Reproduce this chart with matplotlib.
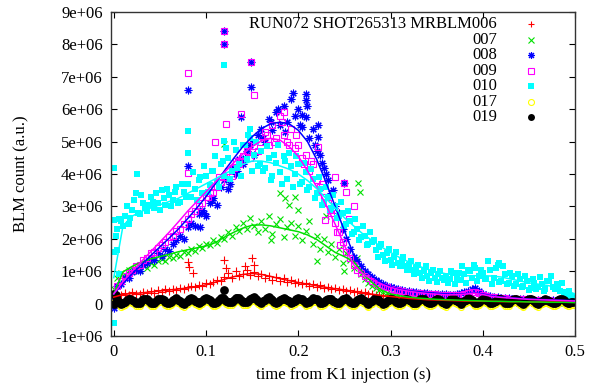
import numpy as np
from matplotlib import pyplot as plt

plt.rcParams['font.family'] = ['Liberation Serif', 'DejaVu Serif']

# sample times of the BLM data (s)
t = np.arange(125) * 0.004
t_half = t + 0.002
# times of the smoothed curves (s)
t_fit = np.arange(51) * 0.01

# ---- BLM counts, in units of 1e6 ----
blm006 = [0.22, 0.30, 0.26, 0.33, 0.28, 0.35, 0.31, 0.29, 0.36, 0.33,
          0.38, 0.34, 0.41, 0.37, 0.44, 0.40, 0.46, 0.43, 0.49, 0.45,
          0.50, 0.54, 0.52, 0.58, 0.55, 0.63, 0.60, 0.68, 0.72, 0.70,
          0.82, 0.95, 0.78, 1.02, 0.86, 0.92, 1.05, 0.88, 0.97, 0.84,
          0.90, 0.80, 0.86, 0.74, 0.82, 0.70, 0.78, 0.66, 0.73, 0.64,
          0.68, 0.60, 0.64, 0.55, 0.59, 0.52, 0.56, 0.49, 0.52, 0.46,
          0.48, 0.42, 0.45, 0.39, 0.42, 0.36, 0.38, 0.33, 0.35, 0.30,
          0.31, 0.26, 0.28, 0.23, 0.24, 0.20, 0.21, 0.18, 0.19, 0.16,
          0.16, 0.13, 0.14, 0.11, 0.13, 0.10, 0.12, 0.09, 0.11, 0.09,
          0.10, 0.08, 0.09, 0.07, 0.09, 0.07, 0.08, 0.06, 0.08, 0.07,
          0.08, 0.06, 0.07, 0.05, 0.07, 0.06, 0.07, 0.05, 0.06, 0.05,
          0.06, 0.05, 0.06, 0.04, 0.05, 0.04, 0.06, 0.04, 0.05, 0.04,
          0.05, 0.04, 0.05, 0.03, 0.04]
blm006_xt = [0.08, 0.082, 0.12, 0.122, 0.15, 0.152, 0.142, 0.002, 0.086]
blm006_xv = [1.28, 1.13, 1.35, 1.10, 1.40, 1.19, 1.15, 0.12, 0.95]

blm007 = [0.45, 0.80, 0.95, 0.88, 1.05, 1.00, 1.12, 1.05, 1.18, 1.10,
          1.25, 1.20, 1.32, 1.38, 1.30, 1.45, 1.40, 1.50, 1.46, 1.58,
          1.55, 1.70, 1.62, 1.78, 1.72, 1.85, 1.80, 1.95, 1.88, 2.05,
          2.00, 2.20, 2.10, 2.35, 2.25, 2.50, 2.30, 2.65, 2.40, 2.20,
          2.55, 2.30, 2.70, 2.15, 2.45, 2.60, 2.05, 2.35, 2.50, 2.10,
          2.40, 1.95, 2.25, 2.55, 1.85, 2.10, 1.70, 2.00, 1.60, 1.85,
          1.45, 1.70, 1.25, 1.55, 1.35, 1.10, 1.40, 0.90, 0.75, 0.65,
          0.55, 0.48, 0.42, 0.36, 0.33, 0.30, 0.28, 0.25, 0.24, 0.22,
          0.21, 0.20, 0.18, 0.17, 0.16, 0.15, 0.15, 0.14, 0.13, 0.13,
          0.12, 0.12, 0.11, 0.11, 0.10, 0.10, 0.09, 0.09, 0.09, 0.08,
          0.08, 0.08, 0.07, 0.07, 0.07, 0.06, 0.06, 0.06, 0.06, 0.05,
          0.05, 0.05, 0.05, 0.05, 0.04, 0.04, 0.04, 0.04, 0.04, 0.03,
          0.03, 0.03, 0.03, 0.03, 0.03]
blm007_xt = [0.12, 0.265, 0.267, 0.20, 0.23, 0.25, 0.17, 0.22, 0.18, 0.186, 0.19, 0.196]
blm007_xv = [4.93, 3.72, 3.44, 2.90, 2.70, 1.00, 1.95, 1.30, 3.40, 3.25, 3.05, 3.30]

blm008 = [0.30, 0.55, 0.62, 0.80, 0.78, 0.98, 1.05, 1.02, 1.20, 1.25,
          1.40, 1.35, 1.55, 1.48, 1.70, 1.62, 1.85, 1.95, 2.10, 2.00,
          2.35, 2.50, 2.40, 2.75, 2.90, 2.70, 3.10, 3.25, 3.05, 3.60,
          3.80, 3.55, 4.20, 4.00, 4.45, 4.30, 4.70, 4.90, 4.60, 5.20,
          5.40, 5.00, 5.70, 5.35, 5.90, 5.50, 6.10, 5.60, 6.30, 5.80,
          6.00, 5.45, 5.75, 5.10, 5.40, 4.70, 4.60, 4.20, 3.80, 3.40,
          3.00, 2.80, 2.30, 2.00, 1.70, 1.45, 1.30, 1.15, 1.00, 0.90,
          0.82, 0.72, 0.66, 0.60, 0.55, 0.50, 0.47, 0.44, 0.42, 0.40,
          0.38, 0.37, 0.35, 0.34, 0.33, 0.32, 0.31, 0.31, 0.30, 0.29,
          0.29, 0.28, 0.28, 0.30, 0.32, 0.35, 0.40, 0.45, 0.48, 0.40,
          0.30, 0.25, 0.22, 0.20, 0.19, 0.18, 0.17, 0.16, 0.15, 0.15,
          0.14, 0.14, 0.13, 0.13, 0.12, 0.12, 0.11, 0.11, 0.10, 0.10,
          0.10, 0.09, 0.09, 0.09, 0.08]
blm008_xt = [0.12, 0.12, 0.149, 0.149, 0.08, 0.08, 0.138, 0.208, 0.208,
             0.204, 0.221, 0.221, 0.226, 0.25, 0.0, 0.0, 0.094,
             0.162, 0.17, 0.178, 0.186, 0.194, 0.202, 0.21, 0.218, 0.23, 0.238,
             0.142, 0.15, 0.134, 0.126, 0.106, 0.098]
blm008_xv = [8.41, 8.00, 7.46, 6.69, 6.60, 4.25, 5.76, 6.47, 6.28,
             5.82, 5.50, 5.14, 4.34, 3.72, 0.20, -0.15, 2.36,
             5.10, 5.60, 6.00, 5.30, 6.50, 5.50, 6.10, 4.90, 4.00, 3.50,
             4.50, 5.00, 4.10, 3.70, 3.20, 2.80]

blm009 = [0.30, 0.55, 0.70, 0.85, 0.95, 1.05, 1.15, 1.20, 1.35, 1.40,
          1.55, 1.60, 1.72, 1.80, 1.90, 2.05, 2.10, 2.25, 2.30, 2.45,
          2.60, 2.75, 2.85, 3.00, 3.10, 3.30, 3.40, 3.45, 3.60, 3.75,
          3.90, 4.10, 3.95, 4.40, 4.30, 4.55, 4.70, 4.50, 4.85, 4.70,
          5.00, 5.30, 4.90, 5.50, 5.10, 5.80, 5.20, 5.00, 5.40, 4.80,
          4.90, 4.50, 4.60, 4.10, 4.30, 3.80, 3.60, 3.30, 3.10, 2.80,
          2.50, 2.20, 1.90, 1.60, 1.40, 1.20, 1.05, 0.95, 0.85, 0.78,
          0.70, 0.64, 0.58, 0.54, 0.50, 0.46, 0.43, 0.41, 0.39, 0.37,
          0.35, 0.34, 0.33, 0.32, 0.31, 0.30, 0.29, 0.29, 0.28, 0.27,
          0.27, 0.26, 0.26, 0.27, 0.28, 0.30, 0.33, 0.35, 0.36, 0.33,
          0.28, 0.24, 0.21, 0.19, 0.18, 0.17, 0.16, 0.15, 0.14, 0.14,
          0.13, 0.13, 0.12, 0.12, 0.11, 0.11, 0.10, 0.10, 0.10, 0.09,
          0.09, 0.09, 0.08, 0.08, 0.08]
blm009_xt = [0.12, 0.12, 0.149, 0.152, 0.0805, 0.08, 0.138, 0.122, 0.221, 0.226,
             0.25, 0.252, 0.26, 0.255, 0.24, 0.11, 0.185, 0.229, 0.245,
             0.166, 0.174, 0.182, 0.19, 0.198, 0.206, 0.214, 0.146, 0.138,
             0.13, 0.114, 0.102, 0.234, 0.242]
blm009_xv = [8.41, 8.00, 7.46, 6.44, 7.12, 4.03, 5.85, 5.55, 4.83, 3.70,
             3.72, 3.44, 3.00, 2.60, 3.90, 5.00, 5.90, 2.58, 1.80,
             5.20, 5.00, 5.60, 4.90, 5.20, 4.30, 4.40, 4.90, 4.40,
             4.20, 3.90, 3.30, 2.90, 2.20]

blm010 = [1.60, 2.30, 2.55, 2.70, 2.45, 2.90, 3.40, 2.75, 3.10, 2.85,
          3.30, 2.95, 3.10, 3.50, 3.05, 3.35, 3.20, 3.60, 3.15, 3.45,
          3.70, 3.30, 3.55, 3.80, 3.40, 3.95, 3.65, 4.10, 3.75, 4.30,
          3.95, 4.50, 4.10, 4.75, 4.30, 4.90, 4.45, 5.10, 4.60, 4.25,
          4.70, 4.20, 4.50, 3.95, 4.35, 4.05, 4.55, 3.85, 4.25, 4.00,
          4.30, 3.75, 4.05, 3.60, 3.85, 3.40, 3.55, 3.15, 3.30, 2.95,
          3.00, 2.70, 2.80, 2.45, 2.55, 2.20, 2.30, 2.05, 2.10, 1.85,
          1.90, 1.65, 1.75, 1.50, 1.55, 1.35, 1.45, 1.25, 1.30, 1.15,
          1.20, 1.05, 1.10, 0.95, 1.00, 0.85, 0.95, 0.80, 0.90, 0.78,
          0.85, 0.75, 0.95, 0.80, 0.72, 0.90, 1.05, 0.78, 1.10, 0.85,
          0.95, 0.75, 1.05, 0.80, 1.20, 0.70, 0.90, 0.65, 0.85, 0.60,
          0.75, 0.55, 0.70, 0.48, 0.65, 0.52, 0.60, 0.45, 0.70, 0.50,
          0.62, 0.40, 0.35, 0.30, 0.22]
# 010 samples taken between the main ones
blm010_half = [2.10, 2.60, 2.40, 3.00, 2.65, 3.20, 2.80, 3.35, 2.95, 3.05,
               3.15, 3.40, 2.90, 3.25, 3.55, 3.00, 3.45, 3.10, 3.70, 3.30,
               3.30, 4.05, 3.20, 3.90, 4.25, 3.45, 4.10, 4.55, 3.60, 4.40,
               4.80, 3.85, 5.00, 4.20, 3.95, 4.90, 5.20, 4.10, 5.00, 4.30,
               4.10, 4.85, 3.80, 4.60, 4.90, 3.70, 4.40, 4.65, 3.60, 4.55,
               3.70, 4.35, 3.50, 4.15, 3.25, 3.90, 3.05, 3.60, 2.90, 3.35,
               2.65, 3.15, 2.40, 2.85, 2.15, 2.60, 1.95, 2.40, 1.80, 2.20,
               1.95, 1.45, 1.85, 1.30, 1.70, 1.20, 1.60, 1.15, 1.45, 1.05,
               1.30, 0.90, 1.20, 0.80, 1.15, 0.70, 1.05, 0.68, 1.00, 0.72,
               0.65, 1.00, 0.62, 0.95, 1.15, 0.65, 1.00, 1.20, 0.70, 1.05,
               0.75, 1.30, 0.62, 1.10, 0.68, 1.15, 0.60, 0.95, 0.55, 0.90,
               0.50, 0.85, 0.42, 0.75, 0.45, 0.82, 0.40, 0.70, 0.85, 0.45,
               0.55, 0.65, 0.28, 0.38, 0.20]
blm010_xt = [0.0, 0.0, 0.0, 0.0, 0.025, 0.08, 0.08, 0.12, 0.12, 0.148, 0.418, 0.004, 0.006]
blm010_xv = [4.20, 2.58, 0.27, -0.60, 4.00, 5.33, 4.65, 7.36, 5.02, 5.40, 1.25, 1.65, 0.90]

blm017 = [0.05, 0.01, -0.09, -0.04, 0.06, 0.03, -0.07, -0.06, 0.05, 0.04,
          -0.06, -0.07, 0.04, 0.06, -0.04, -0.08, 0.02, 0.07, -0.02, -0.09,
          0.00, 0.08, 0.00, -0.08, -0.02, 0.09, 0.02, -0.07, -0.04, 0.08,
          0.05, -0.05, -0.04, 0.07, 0.08, -0.03, -0.05, 0.05, 0.10, -0.01,
          -0.06, 0.03, 0.10, 0.01, -0.07, 0.01, 0.09, 0.03, -0.06, -0.01,
          0.08, 0.04, -0.06, -0.03, 0.07, 0.05, -0.06, -0.05, 0.06, 0.06,
          -0.05, -0.07, 0.04, 0.07, -0.04, -0.08, 0.02, 0.07, -0.02, -0.09,
          0.00, 0.07, 0.00, -0.09, -0.02, 0.07, 0.01, -0.08, -0.04, 0.06,
          0.03, -0.07, -0.06, 0.05, 0.05, -0.05, -0.08, 0.03, 0.06, -0.03,
          -0.09, 0.01, 0.07, -0.01, -0.09, -0.01, 0.07, 0.01, -0.08, -0.03,
          0.06, 0.03, -0.07, -0.05, 0.05, 0.04, -0.06, -0.07, 0.03, 0.06,
          -0.04, -0.09, 0.01, 0.06, -0.02, -0.09, -0.01, 0.06, 0.00, -0.08,
          -0.03, 0.05, 0.02, -0.07, -0.05]
blm017_half = [0.11, -0.04, -0.07, 0.01, 0.05, -0.02, -0.07, -0.01, 0.05, -0.01,
               -0.07, -0.02, 0.05, 0.01, -0.06, -0.03, 0.05, 0.03, -0.06, -0.05,
               0.04, 0.04, -0.04, -0.05, 0.04, 0.06, -0.03, -0.06, 0.02, 0.07,
               0.00, -0.05, 0.02, 0.08, 0.03, -0.04, 0.00, 0.08, 0.05, -0.04,
               -0.02, 0.07, 0.06, -0.03, -0.03, 0.05, 0.06, -0.02, -0.04, 0.04,
               0.06, -0.01, -0.05, 0.02, 0.06, -0.01, -0.06, 0.01, 0.06, 0.00,
               -0.06, -0.02, 0.06, 0.01, -0.06, -0.03, 0.05, 0.03, -0.06, -0.05,
               0.04, 0.04, -0.05, -0.06, 0.03, 0.04, -0.04, -0.06, 0.01, 0.05,
               -0.02, -0.07, 0.00, 0.06, 0.00, -0.07, -0.03, 0.05, 0.02, -0.06,
               -0.04, 0.04, 0.03, -0.05, -0.05, 0.03, 0.04, -0.04, -0.06, 0.02,
               0.05, -0.02, -0.06, 0.00, 0.05, -0.01, -0.07, -0.02, 0.05, 0.01,
               -0.07, -0.04, 0.04, 0.02, -0.06, -0.05, 0.03, 0.03, -0.04, -0.06,
               0.01, 0.04, -0.03, -0.06, -0.04]

blm019 = [0.30, 0.10, 0.00, 0.05, 0.15, 0.12, 0.02, 0.03, 0.14, 0.13,
          0.03, 0.02, 0.13, 0.15, 0.05, 0.01, 0.11, 0.16, 0.07, 0.00,
          0.09, 0.17, 0.09, 0.01, 0.07, 0.18, 0.11, 0.02, 0.05, 0.17,
          0.14, 0.04, 0.05, 0.16, 0.17, 0.06, 0.04, 0.14, 0.19, 0.08,
          0.03, 0.12, 0.19, 0.10, 0.02, 0.10, 0.18, 0.12, 0.03, 0.08,
          0.17, 0.13, 0.03, 0.06, 0.16, 0.14, 0.03, 0.04, 0.15, 0.15,
          0.04, 0.02, 0.13, 0.16, 0.05, 0.01, 0.11, 0.16, 0.07, 0.00,
          0.09, 0.16, 0.09, 0.00, 0.07, 0.16, 0.10, 0.01, 0.05, 0.15,
          0.12, 0.02, 0.03, 0.14, 0.14, 0.04, 0.01, 0.12, 0.15, 0.06,
          0.00, 0.10, 0.16, 0.08, 0.00, 0.08, 0.16, 0.10, 0.01, 0.06,
          0.15, 0.12, 0.02, 0.04, 0.14, 0.13, 0.03, 0.02, 0.12, 0.15,
          0.05, 0.00, 0.10, 0.15, 0.07, 0.00, 0.08, 0.15, 0.09, 0.01,
          0.06, 0.14, 0.11, 0.02, 0.04]
blm019_half = [0.20, 0.05, 0.02, 0.10, 0.14, 0.07, 0.02, 0.08, 0.14, 0.08,
               0.02, 0.07, 0.14, 0.10, 0.03, 0.06, 0.14, 0.12, 0.03, 0.04,
               0.13, 0.13, 0.05, 0.04, 0.13, 0.15, 0.06, 0.03, 0.11, 0.16,
               0.09, 0.04, 0.11, 0.17, 0.12, 0.05, 0.09, 0.17, 0.14, 0.05,
               0.07, 0.16, 0.15, 0.06, 0.06, 0.14, 0.15, 0.07, 0.05, 0.13,
               0.15, 0.08, 0.04, 0.11, 0.15, 0.08, 0.03, 0.10, 0.15, 0.09,
               0.03, 0.07, 0.15, 0.10, 0.03, 0.06, 0.14, 0.12, 0.03, 0.04,
               0.13, 0.13, 0.04, 0.03, 0.12, 0.13, 0.05, 0.03, 0.10, 0.14,
               0.07, 0.02, 0.09, 0.15, 0.09, 0.02, 0.06, 0.14, 0.11, 0.03,
               0.05, 0.13, 0.12, 0.04, 0.04, 0.12, 0.13, 0.05, 0.03, 0.11,
               0.14, 0.07, 0.03, 0.09, 0.14, 0.08, 0.02, 0.07, 0.14, 0.10,
               0.02, 0.05, 0.13, 0.11, 0.03, 0.04, 0.12, 0.12, 0.05, 0.03,
               0.10, 0.13, 0.06, 0.03, 0.05]
blm019_xt = [0.12, 0.0, 0.002]
blm019_xv = [0.42, 0.0, 0.25]

# ---- smoothed curves, units of 1e6 ----
fit006 = [0.20, 0.28, 0.31, 0.33, 0.36, 0.39, 0.42, 0.45, 0.48, 0.52,
          0.58, 0.66, 0.75, 0.83, 0.90, 0.93, 0.90, 0.84, 0.77, 0.71,
          0.65, 0.60, 0.55, 0.50, 0.46, 0.42, 0.38, 0.34, 0.29, 0.25,
          0.22, 0.19, 0.16, 0.14, 0.12, 0.11, 0.10, 0.09, 0.08, 0.08,
          0.07, 0.07, 0.06, 0.06, 0.06, 0.05, 0.05, 0.05, 0.05, 0.04, 0.04]
fit007 = [0.30, 0.98, 1.15, 1.28, 1.38, 1.45, 1.52, 1.60, 1.66, 1.72,
          1.78, 1.88, 2.05, 2.20, 2.33, 2.42, 2.43, 2.40, 2.34, 2.28,
          2.22, 2.12, 1.98, 1.78, 1.58, 1.45, 1.30, 0.95, 0.65, 0.42,
          0.30, 0.24, 0.20, 0.17, 0.15, 0.13, 0.12, 0.11, 0.10, 0.09,
          0.08, 0.07, 0.07, 0.06, 0.06, 0.05, 0.05, 0.04, 0.04, 0.04, 0.03]
fit008 = [0.30, 0.62, 0.92, 1.20, 1.48, 1.75, 2.02, 2.30, 2.62, 2.95,
          3.30, 3.70, 4.10, 4.48, 4.85, 5.15, 5.40, 5.55, 5.60, 5.55,
          5.35, 5.00, 4.45, 3.75, 3.00, 2.25, 1.50, 1.10, 0.85, 0.66,
          0.52, 0.45, 0.40, 0.37, 0.34, 0.32, 0.30, 0.29, 0.30, 0.33,
          0.30, 0.24, 0.20, 0.18, 0.16, 0.14, 0.13, 0.12, 0.11, 0.10, 0.09]
fit009 = [0.30, 0.68, 1.00, 1.30, 1.60, 1.90, 2.20, 2.52, 2.85, 3.15,
          3.45, 3.75, 4.05, 4.35, 4.62, 4.85, 5.02, 5.10, 5.05, 4.85,
          4.55, 4.10, 3.60, 3.05, 2.45, 1.80, 1.20, 0.92, 0.75, 0.60,
          0.50, 0.43, 0.38, 0.34, 0.31, 0.29, 0.27, 0.27, 0.29, 0.32,
          0.28, 0.22, 0.19, 0.17, 0.15, 0.13, 0.12, 0.11, 0.10, 0.09, 0.08]
fit010 = [0.80, 2.40, 2.70, 2.85, 2.95, 3.05, 3.15, 3.25, 3.40, 3.55,
          3.70, 3.85, 4.00, 4.15, 4.30, 4.40, 4.40, 4.35, 4.25, 4.15,
          4.00, 3.80, 3.55, 3.25, 2.95, 2.65, 2.40, 2.15, 1.95, 1.75,
          1.58, 1.42, 1.28, 1.16, 1.06, 0.98, 0.92, 0.88, 0.86, 0.86,
          0.86, 0.85, 0.82, 0.76, 0.70, 0.64, 0.60, 0.56, 0.50, 0.40, 0.30]

labels = ['RUN072 SHOT265313 MRBLM006', '007', '008', '009', '010', '017', '019']
colors = ['#ff0000', '#00e000', '#0000ff', '#ff00ff', '#00ffff', '#ffff00', '#000000']

t2 = np.concatenate([t, t_half])
series = [(t, blm006, blm006_xt, blm006_xv),
          (t, blm007, blm007_xt, blm007_xv),
          (t, blm008, blm008_xt, blm008_xv),
          (t, blm009, blm009_xt, blm009_xv),
          (t2, blm010 + blm010_half, blm010_xt, blm010_xv),
          (t2, blm017 + blm017_half, [], []),
          (t2, blm019 + blm019_half, blm019_xt, blm019_xv)]
fits = [fit006, fit007, fit008, fit009, fit010]

styles = [dict(marker='+', ms=5.5, mew=0.8),
          dict(marker='x', ms=4.5, mew=0.8),
          dict(marker=(8, 2, 0), ms=5.5, mew=0.8),
          dict(marker='s', ms=4.5, mew=0.8, mfc='none'),
          dict(marker='s', ms=5.0, mew=0),
          dict(marker='o', ms=4.3, mew=0.8, mfc='none'),
          dict(marker='o', ms=6.3, mew=0)]

fig = plt.figure(figsize=(5.92, 3.85), dpi=100)
ax = fig.add_axes([0.1875, 0.1273, 0.7838, 0.8415])

for (tt, vals, xt, xv), c, st in zip(series, colors, styles):
    tx = np.concatenate([tt, xt])
    vv = np.concatenate([vals, xv]) * 1e6
    ax.plot(tx, vv, ls='none', color=c, zorder=2, **st)

for f, c in zip(fits, colors[:5]):
    ax.plot(t_fit, np.array(f) * 1e6, color=c, lw=1.1, zorder=3)

# gnuplot style key: right-justified text, sample to its right
for i, (lab, c, st) in enumerate(zip(labels, colors, styles)):
    y = 0.963 - i * 0.0481
    ax.text(0.832, y, lab, transform=ax.transAxes, ha='right', va='center', fontsize=12)
    st_key = dict(st)
    st_key['ms'] = min(st['ms'], 5)
    ax.plot([0.905], [y], transform=ax.transAxes, ls='none', color=c, clip_on=False, **st_key)

ax.set_xlim(-0.003, 0.5)
ax.set_ylim(-1e6, 9e6)
ax.set_xticks([0, 0.1, 0.2, 0.3, 0.4, 0.5])
ax.set_yticks(np.arange(-1, 10) * 1e6)
ax.set_xticklabels(['%g' % v for v in [0, 0.1, 0.2, 0.3, 0.4, 0.5]])
ax.set_yticklabels(['%g' % (v * 1e6) for v in range(-1, 10)])
ax.tick_params(direction='in', length=4, top=True, right=True, labelsize=12, pad=6)
for s in ax.spines.values():
    s.set_linewidth(1.0)
    s.set_color('#333333')

ax.set_xlabel('time from K1 injection (s)', fontsize=12, labelpad=5)
ax.set_ylabel('BLM count (a.u.)', fontsize=12, labelpad=19)

fig.savefig('out.png', dpi=100)
